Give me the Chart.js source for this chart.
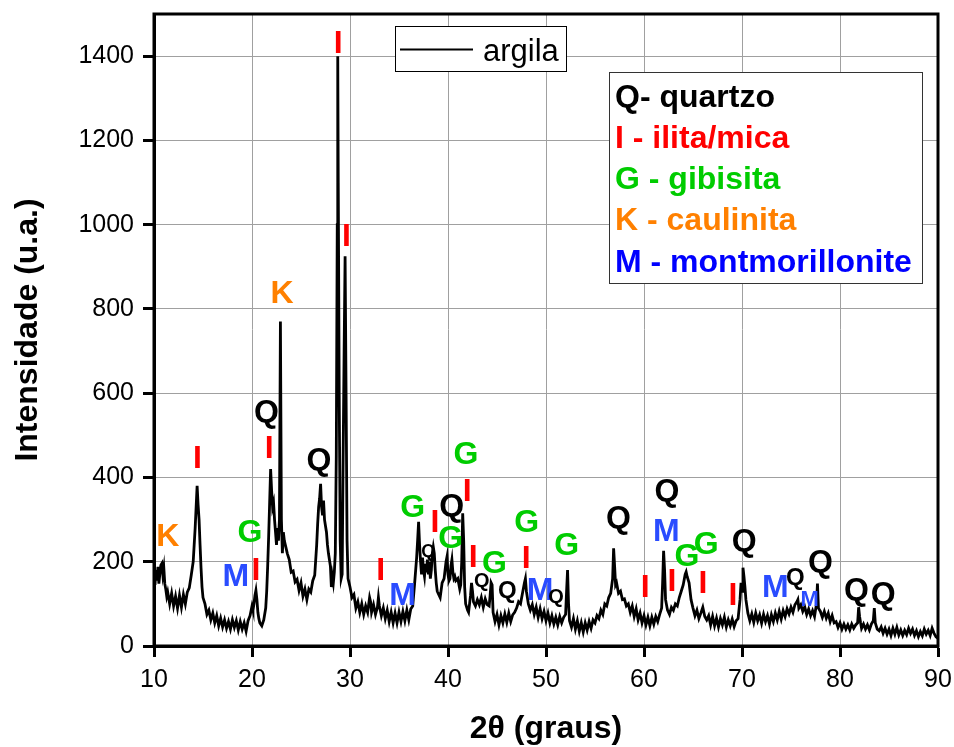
<!DOCTYPE html>
<html>
<head>
<meta charset="utf-8">
<script src="https://cdn.jsdelivr.net/npm/chart.js@4/dist/chart.umd.min.js"></script>
<style>
  html, body { margin: 0; padding: 0; background: #fff; }
  #wrap { width: 954px; height: 747px; position: relative; }
</style>
</head>
<body>
<div id="wrap"><canvas id="c" width="954" height="747"></canvas></div>
<script>
// ---------------- DATA ----------------
const twoTheta = [
  10.0, 10.1, 10.2, 10.3, 10.4, 10.5, 10.6, 10.7, 10.8, 10.9, 11.0, 11.1, 11.2, 11.3, 11.4,
  11.6, 11.8, 12.0, 12.2, 12.4, 12.6, 12.8, 13.0, 13.2, 13.4, 13.6, 13.8,
  14.0, 14.1, 14.2, 14.3, 14.4, 14.5, 14.6, 14.7, 14.8, 14.9, 15.0,
  15.2, 15.4, 15.6, 15.8, 16.0, 16.2, 16.4, 16.6, 16.8, 17.0, 17.2, 17.4, 17.6,
  17.8, 18.0, 18.2, 18.4, 18.6, 18.8, 19.0, 19.2, 19.4, 19.6, 19.8, 20.0,
  20.1, 20.2, 20.3, 20.4, 20.5, 20.6, 20.7, 20.8, 21.0, 21.2, 21.4,
  21.5, 21.6, 21.7, 21.8, 21.9, 22.0, 22.1, 22.2, 22.3, 22.4, 22.5,
  22.6, 22.7, 22.8, 22.9, 23.0, 23.1, 23.2, 23.3, 23.4, 23.6,
  23.8, 24.0, 24.2, 24.4, 24.6, 24.8, 25.0, 25.2, 25.4, 25.6, 25.8, 26.0,
  26.2, 26.4, 26.6, 26.7, 26.8, 26.9, 27.0, 27.1, 27.2, 27.3,
  27.4, 27.5, 27.6, 27.7, 27.8, 28.0, 28.1, 28.2, 28.3, 28.4, 28.5,
  28.6, 28.7, 28.75, 28.8, 28.9, 29.0, 29.1, 29.2, 29.3, 29.4, 29.5,
  29.6, 29.7, 29.8, 30.0, 30.2, 30.4, 30.6, 30.8, 31.0,
  31.2, 31.4, 31.6, 31.8, 32.0, 32.1, 32.2, 32.4, 32.6, 32.8, 32.9,
  33.0, 33.2, 33.4, 33.6, 33.8, 34.0, 34.2, 34.4, 34.6, 34.8, 35.0,
  35.2, 35.4, 35.6, 35.8, 36.0, 36.2, 36.4, 36.6, 36.8, 36.9, 37.0,
  37.1, 37.2, 37.3, 37.4, 37.5, 37.6, 37.7, 37.8, 37.9, 38.0, 38.1,
  38.2, 38.3, 38.4, 38.5, 38.6, 38.7, 38.8, 38.9, 39.0, 39.2,
  39.4, 39.6, 39.8, 39.9, 40.0, 40.1, 40.2, 40.3, 40.4, 40.5,
  40.6, 40.7, 40.8, 41.0, 41.2, 41.3, 41.4, 41.5, 41.6, 41.7,
  41.8, 42.0, 42.1, 42.2, 42.3, 42.4, 42.5, 42.6, 42.8, 43.0,
  43.2, 43.4, 43.6, 43.8, 44.0, 44.2, 44.3, 44.4, 44.5, 44.6,
  44.8, 45.0, 45.2, 45.4, 45.6, 45.8, 46.0, 46.2, 46.4, 46.6, 46.8,
  47.0, 47.2, 47.4, 47.6, 47.8, 47.9, 48.0, 48.2, 48.4,
  48.6, 48.8, 49.0, 49.2, 49.4, 49.6, 49.8, 50.0, 50.2, 50.4, 50.6,
  50.8, 51.0, 51.2, 51.4, 51.6, 51.8, 52.0, 52.1, 52.2, 52.3, 52.4,
  52.6, 52.8, 53.0, 53.2, 53.4, 53.6, 53.8, 54.0, 54.2, 54.4, 54.6,
  54.8, 55.0, 55.2, 55.4, 55.6, 55.8, 56.0, 56.2, 56.4, 56.6, 56.8,
  56.9, 57.0, 57.1, 57.2, 57.4, 57.6, 57.8, 58.0, 58.2, 58.4,
  58.6, 58.8, 59.0, 59.2, 59.4, 59.6, 59.8, 60.0, 60.2, 60.4, 60.6,
  60.8, 61.0, 61.2, 61.4, 61.6, 61.8, 61.9, 62.0, 62.1, 62.2,
  62.4, 62.6, 62.8, 63.0, 63.2, 63.4, 63.6, 63.8, 64.0, 64.2, 64.3, 64.4,
  64.6, 64.8, 65.0, 65.2, 65.4, 65.6, 65.8, 66.0, 66.2, 66.4, 66.6,
  66.8, 67.0, 67.2, 67.4, 67.6, 67.8, 68.0, 68.2, 68.4, 68.6, 68.8,
  69.0, 69.2, 69.4, 69.6, 69.8, 69.9, 70.0, 70.1, 70.2, 70.3, 70.4,
  70.6, 70.8, 71.0, 71.2, 71.4, 71.6, 71.8, 72.0, 72.2, 72.4, 72.6,
  72.8, 73.0, 73.2, 73.4, 73.6, 73.8, 74.0, 74.2, 74.4, 74.6, 74.8,
  75.0, 75.2, 75.4, 75.6, 75.7, 75.8, 76.0, 76.2, 76.4, 76.6,
  76.8, 77.0, 77.2, 77.4, 77.6, 77.7, 77.8, 78.0, 78.2,
  78.4, 78.6, 78.8, 79.0, 79.2, 79.4, 79.6, 79.8, 80.0, 80.2, 80.4,
  80.6, 80.8, 81.0, 81.2, 81.4, 81.6, 81.8, 81.9, 82.0, 82.1, 82.2,
  82.4, 82.6, 82.8, 83.0, 83.2, 83.4, 83.5, 83.6, 83.8, 84.0,
  84.2, 84.4, 84.6, 84.8, 85.0, 85.2, 85.4, 85.6, 85.8, 86.0, 86.2,
  86.4, 86.6, 86.8, 87.0, 87.2, 87.4, 87.6, 87.8, 88.0, 88.2, 88.4,
  88.6, 88.8, 89.0, 89.2, 89.4, 89.6, 89.8, 90.0
];
const intensity = [
  165, 145, 180, 155, 188, 148, 172, 192, 196, 170, 186, 148, 135, 118, 128,
  100, 125, 95, 118, 90, 120, 92, 122, 100, 128, 138, 168,
  200, 240, 280, 330, 380, 335, 300, 240, 185, 140, 115,
  100, 75, 85, 62, 78, 55, 72, 48, 66, 45, 62, 42, 58,
  40, 62, 44, 60, 38, 58, 40, 55, 35, 60, 72, 95,
  85, 100, 120, 132, 110, 80, 65, 55, 48, 62, 90,
  130, 190, 260, 340, 420, 370, 330, 340, 300, 270, 240,
  280, 250, 300, 770, 300, 220, 270, 250, 240, 220,
  205, 175, 178, 152, 158, 132, 150, 118, 135, 110, 135, 128,
  155, 168, 240, 290, 330, 350, 385, 330, 310, 345,
  300, 285, 270, 240, 220, 190, 140, 165, 150, 175, 220,
  450, 1000, 1400, 1100, 600, 250, 160, 170, 450, 700, 925,
  600, 250, 160, 140, 115, 122, 90, 105, 80,
  100, 75, 95, 80, 115, 105, 80, 98, 75, 92, 115,
  95, 72, 90, 65, 85, 58, 80, 55, 78, 55, 80,
  58, 82, 60, 85, 62, 88, 95, 150, 210, 250, 295,
  240, 200, 170, 210, 180, 165, 195, 175, 205, 170, 200,
  160, 180, 220, 235, 220, 180, 150, 130, 125, 115,
  150, 160, 200, 212, 170, 155, 160, 190, 205, 175,
  160, 165, 155, 160, 135, 145, 200, 315, 250, 140,
  100, 85, 80, 100, 120, 150, 130, 105, 95, 110,
  98, 115, 92, 112, 98, 95, 120, 150, 145, 80,
  58, 75, 50, 72, 55, 76, 56, 78, 58, 74, 80,
  90, 105, 100, 125, 150, 160, 130, 100, 85,
  98, 75, 92, 68, 88, 65, 82, 60, 78, 55, 72,
  52, 68, 50, 70, 55, 68, 75, 130, 180, 100, 60,
  45, 65, 40, 60, 35, 55, 33, 55, 38, 58, 42,
  62, 55, 72, 65, 85, 75, 100, 95, 115, 125, 160,
  232, 190, 145, 150, 125, 130, 110, 112, 95, 100,
  80, 95, 70, 88, 62, 78, 55, 72, 50, 68, 48,
  68, 52, 70, 58, 75, 90, 150, 226, 180, 110,
  85, 75, 92, 85, 100, 95, 115, 130, 145, 170, 176, 165,
  150, 110, 90, 72, 85, 65, 78, 92, 70, 62, 72,
  50, 70, 48, 66, 45, 65, 50, 68, 45, 62, 48,
  64, 46, 60, 65, 110, 150, 130, 186, 165, 140, 110,
  78, 60, 76, 56, 78, 60, 74, 54, 75, 58, 72,
  52, 74, 58, 78, 62, 82, 64, 84, 70, 88, 76,
  92, 80, 98, 105, 110, 90, 98, 82, 93, 75,
  88, 72, 84, 70, 100, 148, 90, 82, 68,
  82, 66, 78, 58, 72, 55, 58, 44, 55, 40, 52,
  40, 50, 38, 52, 42, 50, 55, 92, 70, 55, 42,
  52, 40, 50, 38, 52, 60, 90, 55, 40, 36,
  45, 30, 42, 28, 40, 25, 42, 28, 44, 26, 38,
  25, 37, 27, 42, 30, 40, 25, 36, 22, 34, 24,
  40, 28, 37, 25, 42, 30, 22, 18
];
const xTicks = [10, 20, 30, 40, 50, 60, 70, 80, 90];
const yTicks = [0, 200, 400, 600, 800, 1000, 1200, 1400];
const seriesName = 'argila';
const phaseLegend = ['Q- quartzo', 'I - ilita/mica', 'G - gibisita', 'K - caulinita', 'M - montmorillonite'];
// phase marks: letter, 2θ position, intensity position
const markLetter = ['K','I','M','G','I','I','Q','K','Q','I','I','I','M','G','Q','I','Q','G','G','I','I','Q','G','Q','I','G','M','Q','G','Q','I','Q','M','I','G','G','I','I','Q','M','Q','M','Q','Q','Q'];
const markX = [11.40,14.43,18.35,19.78,20.39,21.75,21.48,23.07,26.82,28.80,29.65,33.12,35.37,36.39,37.99,38.67,40.38,40.28,41.84,41.97,42.58,43.44,44.73,46.06,47.97,48.04,49.40,51.03,52.12,57.40,60.12,62.34,62.27,62.85,64.38,66.35,66.01,69.08,70.23,73.40,75.44,76.90,78.00,81.68,84.40];
const markY = [258,443,164,268,178,467,552,836,439,1429,971,178,119,326,224,292,329,253,453,364,208,152,194,129,206,291,131,115,238,301,137,364,269,151,212,240,147,119,247,137,161,109,196,129,121];

// ---------------- STYLE ----------------
const FAM = '"Liberation Sans", Arial, Helvetica, sans-serif';
const markColor = { Q: '#000000', I: '#ff0000', G: '#00cc00', K: '#ff8000', M: '#2a4cff' };
const legendColor = ['#000000', '#ff0000', '#00cc00', '#ff8000', '#0000ff'];
const smallMarks = { 14: 18, 21: 20, 23: 24, 27: 20, 40: 24, 41: 22 };

const overlay = {
  id: 'overlay',
  afterDatasetsDraw(chart) {
    const { ctx, chartArea: a, scales: { x, y } } = chart;
    ctx.save();
    // frame
    ctx.strokeStyle = '#000';
    ctx.lineWidth = 3;
    ctx.strokeRect(a.left, a.top, a.right - a.left, a.bottom - a.top);
    // phase marks
    ctx.textAlign = 'center';
    ctx.textBaseline = 'middle';
    markLetter.forEach((t, i) => {
      const size = smallMarks[i] || 32;
      ctx.font = `bold ${size}px ${FAM}`;
      ctx.fillStyle = markColor[t];
      ctx.fillText(t, x.getPixelForValue(markX[i]), y.getPixelForValue(markY[i]));
    });
    // series legend
    ctx.fillStyle = '#fff';
    ctx.fillRect(395.5, 26.5, 171, 45);
    ctx.strokeStyle = '#000';
    ctx.lineWidth = 1;
    ctx.strokeRect(395.5, 26.5, 171, 45);
    ctx.lineWidth = 2;
    ctx.beginPath(); ctx.moveTo(400, 49.5); ctx.lineTo(473, 49.5); ctx.stroke();
    ctx.textAlign = 'left';
    ctx.textBaseline = 'alphabetic';
    ctx.fillStyle = '#000';
    ctx.font = `31px ${FAM}`;
    ctx.fillText(seriesName, 483, 61);
    // phase legend
    ctx.fillStyle = '#fff';
    ctx.fillRect(609.5, 72.5, 313, 211);
    ctx.strokeStyle = '#333';
    ctx.lineWidth = 1;
    ctx.strokeRect(609.5, 72.5, 313, 211);
    ctx.font = `bold 32px ${FAM}`;
    phaseLegend.forEach((s, i) => {
      ctx.fillStyle = legendColor[i];
      ctx.fillText(s, 615, 106.5 + i * 41.3);
    });
    ctx.restore();
  }
};

new Chart(document.getElementById('c'), {
  type: 'line',
  data: {
    datasets: [{
      label: seriesName,
      data: twoTheta.map((t, i) => ({ x: t, y: intensity[i] })),
      borderColor: '#000',
      borderWidth: 2.8,
      pointRadius: 0,
      tension: 0,
      fill: false
    }]
  },
  options: {
    responsive: false,
    animation: false,
    layout: { padding: { top: 14, right: 16, left: 0, bottom: 0 } },
    plugins: { legend: { display: false }, tooltip: { enabled: false } },
    scales: {
      x: {
        type: 'linear', min: 10, max: 90,
        afterFit(s) { s.height = 101; s.paddingLeft = 0; s.paddingRight = 0; },
        afterBuildTicks(s) { s.ticks = xTicks.map(v => ({ value: v })); },
        grid: { color: '#a0a0a0', lineWidth: 1, tickLength: 11, tickColor: '#000', tickWidth: 3 },
        border: { display: true, color: '#000', width: 3 },
        ticks: { color: '#000', padding: 8, font: { family: FAM, size: 25 }, maxRotation: 0,
                 callback: v => String(v) },
        title: { display: true, text: '2θ (graus)', color: '#000', padding: { top: 0, bottom: 0 },
                 font: { family: FAM, size: 32, weight: 'bold', lineHeight: 1.1 } }
      },
      y: {
        type: 'linear', min: 0, max: 1500,
        afterFit(s) { s.width = 154; s.paddingTop = 0; s.paddingBottom = 0; },
        afterBuildTicks(s) { s.ticks = yTicks.map(v => ({ value: v })); },
        grid: { color: '#a0a0a0', lineWidth: 1, tickLength: 11, tickColor: '#000', tickWidth: 3 },
        border: { display: true, color: '#000', width: 3 },
        ticks: { color: '#000', padding: 9, font: { family: FAM, size: 25 },
                 callback: v => String(v) },
        title: { display: true, text: 'Intensidade (u.a.)', color: '#000', padding: { top: 9, bottom: 0 },
                 font: { family: FAM, size: 32, weight: 'bold', lineHeight: 1.2 } }
      }
    }
  },
  plugins: [overlay]
});
</script>
</body>
</html>
